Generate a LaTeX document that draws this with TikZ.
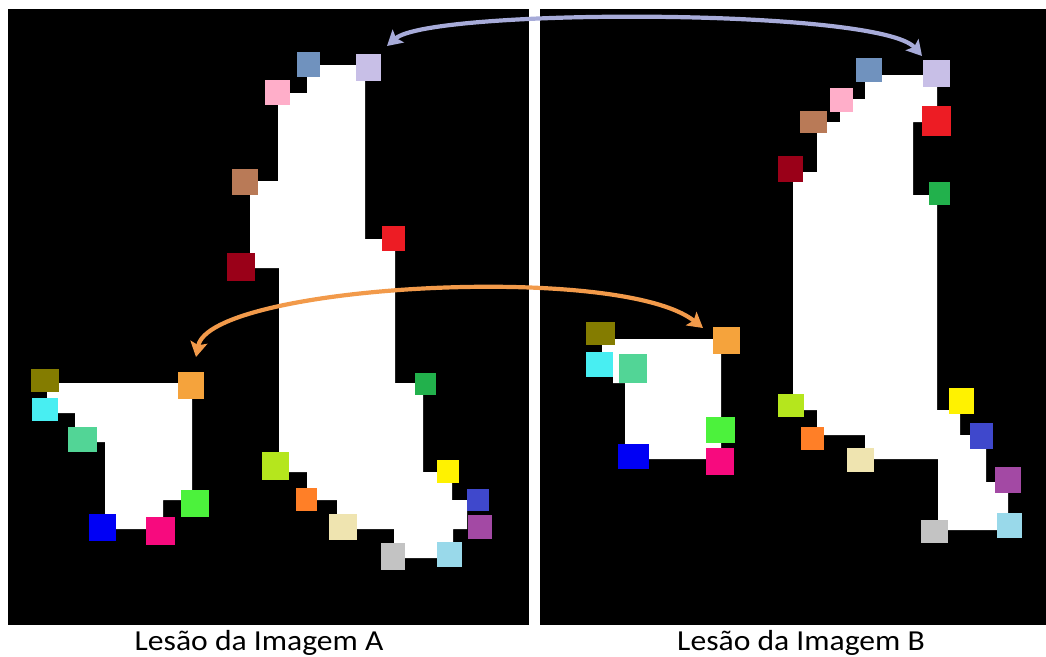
\documentclass[tikz,border=0pt]{standalone}
\usepackage{fontspec}
\setmainfont{Carlito}
\usetikzlibrary{arrows.meta,calc}

% palette of the corner markers
\definecolor{mkSteel}{HTML}{7092BE}
\definecolor{mkLavender}{HTML}{C8BFE7}
\definecolor{mkPink}{HTML}{FFAEC9}
\definecolor{mkBrown}{HTML}{B97A57}
\definecolor{mkDarkRed}{HTML}{9A0018}
\definecolor{mkRed}{HTML}{ED1C24}
\definecolor{mkGreen}{HTML}{22B14C}
\definecolor{mkLime}{HTML}{B5E61D}
\definecolor{mkOrange}{HTML}{FF7F27}
\definecolor{mkBeige}{HTML}{EFE4B0}
\definecolor{mkGrey}{HTML}{C3C3C3}
\definecolor{mkSky}{HTML}{99D9EA}
\definecolor{mkPurple}{HTML}{A349A4}
\definecolor{mkIndigo}{HTML}{3F48CC}
\definecolor{mkYellow}{HTML}{FFF200}
\definecolor{mkOlive}{HTML}{847C00}
\definecolor{mkCyan}{HTML}{48EEF2}
\definecolor{mkSea}{HTML}{52D596}
\definecolor{mkGold}{HTML}{F5A33C}
\definecolor{mkBright}{HTML}{4CF23C}
\definecolor{mkMagenta}{HTML}{F70A7E}
\definecolor{mkBlue}{HTML}{0000F5}
% link colours
\definecolor{linkLav}{HTML}{A7ABD9}
\definecolor{linkOrange}{HTML}{F29A4A}

% marker square given by its corners: name, colour, x1, y1, x2, y2
\newcommand\patchsq[6]{%
  \node[marker, fill=#2, minimum width={(#5-#3)*1pt}, minimum height={(#6-#4)*1pt}]
    (#1) at ({(#3+#5)/2},{(#4+#6)/2}) {};}
% caption text, set slightly wide
\newcommand\widecap[1]{\scalebox{1.09}[1]{#1}}

\begin{document}
\begin{tikzpicture}[x=1pt, y=-1pt,
  marker/.style={rectangle, draw=none, inner sep=0pt, outer sep=0pt},
  panel/.style={fill=black},
  lesion/.style={fill=white},
  link/.style={line width=4.2pt,
    {Stealth[length=15pt,width=17pt,inset=3pt]}-{Stealth[length=15pt,width=17pt,inset=3pt]}},
  caption/.style={anchor=base, inner sep=0pt, font=\fontsize{29}{34}\selectfont}
]
\useasboundingbox[fill=white] (0,0) rectangle (1046,656);

% the two image panels
\fill[panel] (8,9) rectangle (529,625);
\fill[panel] (540,9) rectangle (1046,625);

% lesions of image A
\fill[lesion] (307,65) -- (365,65) -- (365,239) -- (395,239) -- (395,383) -- (423,383)
  -- (423,472) -- (452,472) -- (452,500) -- (467,500) -- (467,529) -- (453,529)
  -- (453,558) -- (394,558) -- (394,529) -- (337,529) -- (337,500) -- (307,500)
  -- (307,472) -- (279,472) -- (279,268) -- (250,268) -- (250,181) -- (278,181)
  -- (278,93) -- (307,93) -- cycle;
\fill[lesion] (47,383) -- (192,383) -- (192,500) -- (163,500) -- (163,529) -- (105,529)
  -- (105,442) -- (75,442) -- (75,413) -- (58,413) -- (58,398) -- (47,398) -- cycle;

% lesions of image B
\fill[lesion] (865,75) -- (937,75) -- (937,122) -- (913,122) -- (913,195) -- (937,195)
  -- (937,410) -- (960,410) -- (960,435) -- (986,435) -- (986,482) -- (1008,482)
  -- (1008,530) -- (938,530) -- (938,459) -- (865,459) -- (865,435) -- (817,435)
  -- (817,410) -- (793,410) -- (793,172) -- (817,172) -- (817,122) -- (840,122)
  -- (840,99) -- (865,99) -- cycle;
\fill[lesion] (602,339) -- (721,339) -- (721,459) -- (625,459) -- (625,383) -- (613,383)
  -- (613,352) -- (602,352) -- cycle;

% markers, image A, large lesion
\patchsq{steelA}{mkSteel}{297}{52}{320}{77}
\patchsq{lavA}{mkLavender}{356}{54}{381}{81}
\patchsq{pinkA}{mkPink}{265}{80}{290}{105}
\patchsq{brownA}{mkBrown}{232}{169}{258}{195}
\patchsq{darkredA}{mkDarkRed}{227}{253}{255}{281}
\patchsq{redA}{mkRed}{382}{226}{405}{251}
\patchsq{greenA}{mkGreen}{415}{373}{436}{395}
\patchsq{limeA}{mkLime}{262}{452}{289}{480}
\patchsq{orangeA}{mkOrange}{296}{488}{317}{511}
\patchsq{beigeA}{mkBeige}{329}{514}{357}{540}
\patchsq{greyA}{mkGrey}{381}{543}{405}{570}
\patchsq{skyA}{mkSky}{437}{542}{462}{567}
\patchsq{purpleA}{mkPurple}{468}{515}{492}{539}
\patchsq{indigoA}{mkIndigo}{467}{489}{489}{511}
\patchsq{yellowA}{mkYellow}{437}{460}{459}{483}
% markers, image A, small lesion
\patchsq{oliveA}{mkOlive}{31}{369}{59}{392}
\patchsq{cyanA}{mkCyan}{32}{398}{58}{421}
\patchsq{seaA}{mkSea}{68}{427}{97}{452}
\patchsq{goldA}{mkGold}{178}{372}{204}{399}
\patchsq{brightA}{mkBright}{181}{490}{209}{517}
\patchsq{magentaA}{mkMagenta}{146}{517}{175}{545}
\patchsq{blueA}{mkBlue}{89}{514}{116}{541}

% markers, image B, large lesion
\patchsq{steelB}{mkSteel}{856}{58}{882}{82}
\patchsq{lavB}{mkLavender}{923}{60}{950}{87}
\patchsq{pinkB}{mkPink}{830}{88}{853}{112}
\patchsq{brownB}{mkBrown}{800}{111}{827}{133}
\patchsq{darkredB}{mkDarkRed}{778}{156}{803}{182}
\patchsq{redB}{mkRed}{922}{106}{951}{136}
\patchsq{greenB}{mkGreen}{929}{182}{950}{205}
\patchsq{limeB}{mkLime}{778}{394}{804}{417}
\patchsq{orangeB}{mkOrange}{801}{427}{824}{450}
\patchsq{beigeB}{mkBeige}{847}{448}{874}{472}
\patchsq{greyB}{mkGrey}{921}{520}{948}{543}
\patchsq{skyB}{mkSky}{997}{513}{1022}{538}
\patchsq{purpleB}{mkPurple}{995}{467}{1021}{493}
\patchsq{indigoB}{mkIndigo}{970}{423}{993}{449}
\patchsq{yellowB}{mkYellow}{949}{388}{974}{414}
% markers, image B, small lesion
\patchsq{oliveB}{mkOlive}{586}{322}{615}{345}
\patchsq{cyanB}{mkCyan}{586}{352}{613}{377}
\patchsq{seaB}{mkSea}{619}{354}{647}{383}
\patchsq{goldB}{mkGold}{713}{327}{740}{354}
\patchsq{brightB}{mkBright}{706}{417}{735}{443}
\patchsq{magentaB}{mkMagenta}{706}{448}{734}{475}
\patchsq{blueB}{mkBlue}{618}{444}{649}{469}

% correspondences between the two images
\draw[link, linkLav] ($(lavA.north east)+(6,-8)$) .. controls (430,8) and (880,8)
  .. ($(lavB.north west)+(-1,-4)$);
\draw[link, linkOrange] ($(goldA.north)+(5,-15)$) .. controls (210,285) and (620,262)
  .. ($(goldB.north west)+(-10,1)$);

% captions
\node[caption] (capA) at (259,650) {\widecap{Lesão da Imagem A}};
\node[caption] (capB) at (801,650) {\widecap{Lesão da Imagem B}};
\end{tikzpicture}
\end{document}
